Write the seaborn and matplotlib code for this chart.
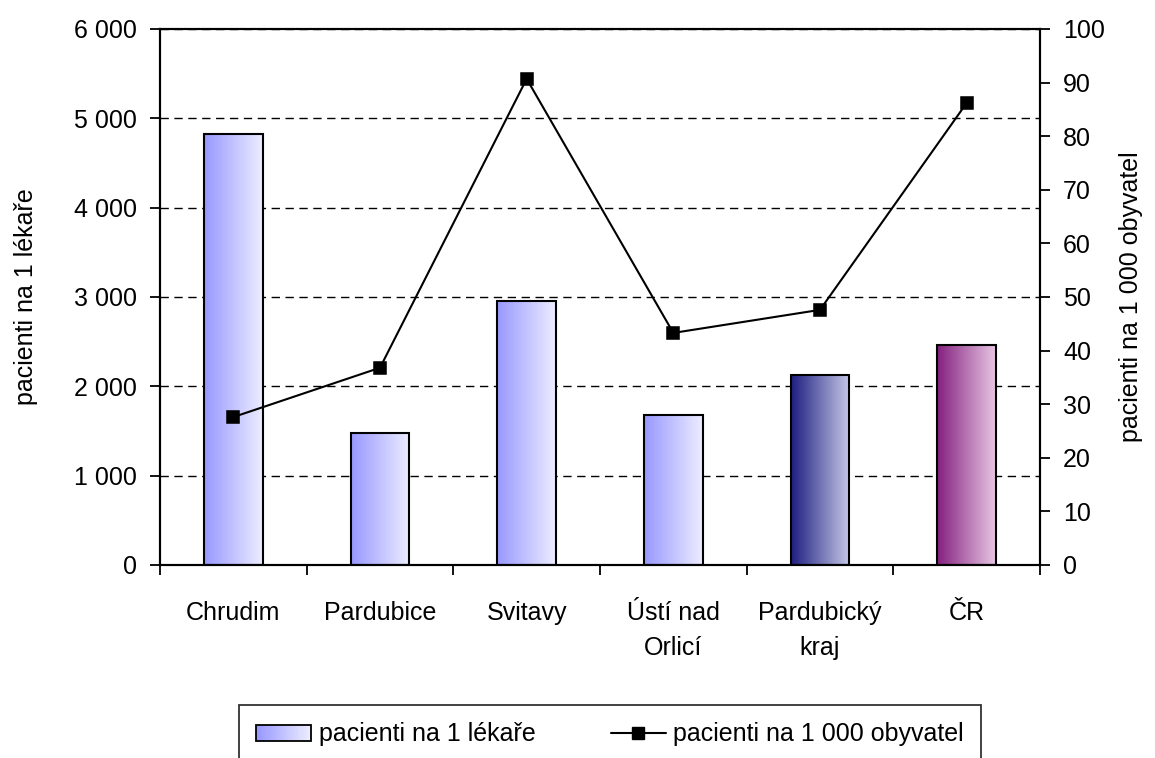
import numpy as np
import pandas as pd
import matplotlib
matplotlib.use("Agg")
import matplotlib.pyplot as plt
import seaborn as sns
from matplotlib import font_manager
from matplotlib.colors import LinearSegmentedColormap
from matplotlib.patches import Rectangle
from matplotlib.lines import Line2D
from matplotlib.legend_handler import HandlerBase
from matplotlib.ticker import FuncFormatter, MultipleLocator, FixedLocator

# Data
categories = ["Chrudim", "Pardubice", "Svitavy", "Ústí nad\nOrlicí", "Pardubický\nkraj", "ČR"]
per_doctor = [4830, 1475, 2955, 1680, 2125, 2460]
per_1000 = [27.6, 36.8, 90.7, 43.3, 47.6, 86.2]
bar_label = "pacienti na 1 lékaře"
line_label = "pacienti na 1 000 obyvatel"

# Gradient colours per bar (left -> right)
grad_left = ["#9898ff", "#9898ff", "#9898ff", "#9898ff", "#1e1e80", "#84207f"]
grad_right = ["#ededff", "#ededff", "#ededff", "#ededff", "#c6c9e8", "#e8c6e4"]


def pick_font():
    """Use a narrow Arial-like face when it exists."""
    for name, size in [("Liberation Sans Narrow", 21.5), ("Liberation Sans", 18)]:
        try:
            font_manager.findfont(font_manager.FontProperties(family=name), fallback_to_default=False)
            return name, size
        except ValueError:
            continue
    return "DejaVu Sans", 15


class GradientHandler(HandlerBase):
    """Legend handle drawn as a stepped horizontal gradient box."""

    def __init__(self, c0, c1):
        super().__init__()
        self.cmap = LinearSegmentedColormap.from_list("leg", [c0, c1])

    def create_artists(self, legend, orig_handle, xdescent, ydescent, width, height, fontsize, trans):
        n = 30
        arts = []
        for i in range(n):
            arts.append(Rectangle((-xdescent + width * i / n, -ydescent), width / n + 0.3, height,
                                  facecolor=self.cmap(i / (n - 1)), edgecolor="none", transform=trans))
        arts.append(Rectangle((-xdescent, -ydescent), width, height, facecolor="none",
                              edgecolor="black", linewidth=1.3, transform=trans))
        return arts


sns.set_style("white")
font_name, fsize = pick_font()
plt.rcParams["font.family"] = [font_name, "DejaVu Sans"]
plt.rcParams["font.size"] = fsize
plt.rcParams["text.color"] = "black"
plt.rcParams["axes.labelcolor"] = "black"
plt.rcParams["xtick.color"] = "black"
plt.rcParams["ytick.color"] = "black"

fig = plt.figure(figsize=(11.55, 7.58), dpi=100)
ax = fig.add_axes([160 / 1155, 1 - 565 / 758, 880 / 1155, 536 / 758])

df = pd.DataFrame({"kraj": categories, "lekar": per_doctor, "obyv": per_1000})

sns.barplot(data=df, x="kraj", y="lekar", ax=ax, width=0.4, color="white",
            edgecolor="black", linewidth=1.5, errorbar=None)

# gradient fill inside each bar
for p, c0, c1 in zip(ax.patches, grad_left, grad_right):
    x0, w, h = p.get_x(), p.get_width(), p.get_height()
    cmap = LinearSegmentedColormap.from_list("bar", [c0, c1])
    ax.imshow(np.linspace(0, 1, 256).reshape(1, -1), cmap=cmap, extent=[x0, x0 + w, 0, h],
              aspect="auto", interpolation="bilinear", zorder=2)
    p.set_facecolor("none")
    p.set_zorder(3)

ax.set_xlim(-0.5, len(categories) - 0.5)
ax.set_ylim(0, 6000)
ax.yaxis.set_major_locator(MultipleLocator(1000))
ax.yaxis.set_major_formatter(FuncFormatter(lambda v, _: f"{int(v):,}".replace(",", " ")))
ax.set_axisbelow(True)
ax.yaxis.grid(True, color="black", linestyle=(0, (6, 4)), linewidth=1)
ax.xaxis.grid(False)

# category ticks: labels at centres, tick marks at boundaries
ax.xaxis.set_minor_locator(FixedLocator(np.arange(-0.5, len(categories), 1.0)))
ax.tick_params(axis="x", which="major", length=0, pad=26, labelsize=fsize, labelcolor="black")
ax.tick_params(axis="x", which="minor", length=7.5, width=1.3, direction="out", bottom=True)
ax.tick_params(axis="y", which="major", length=7.5, width=1.3, direction="out", left=True, pad=9,
               labelsize=fsize, labelcolor="black")
for lbl in ax.get_xticklabels():
    lbl.set_linespacing(1.55)
    lbl.set_verticalalignment("top")

ax.set_xlabel("")
ax.set_ylabel(bar_label, fontsize=fsize, labelpad=26, color="black")
for s in ax.spines.values():
    s.set_visible(True)
    s.set_color("black")
    s.set_linewidth(1.5)

# secondary axis with the line series
ax2 = ax.twinx()
sns.pointplot(data=df, x="kraj", y="obyv", ax=ax2, color="black", markers="s",
              markersize=9, linewidth=1.5, errorbar=None)
ax2.set_xlim(-0.5, len(categories) - 0.5)
ax2.set_ylim(0, 100)
ax2.yaxis.set_major_locator(MultipleLocator(10))
ax2.tick_params(axis="y", which="major", length=7.5, width=1.3, direction="out", right=True, pad=9,
                labelsize=fsize, labelcolor="black")
ax2.set_ylabel(line_label, fontsize=fsize, labelpad=10, color="black")
ax2.yaxis.set_label_position("right")
ax2.grid(False)
for s in ax2.spines.values():
    s.set_color("black")
    s.set_linewidth(1.5)

# legend at the bottom
bar_handle = Rectangle((0, 0), 1, 1)
line_handle = Line2D([], [], color="black", marker="s", markersize=8, linewidth=1.5)
leg = fig.legend([bar_handle, line_handle], [bar_label, line_label], loc="upper center",
                 bbox_to_anchor=(610 / 1155, 1 - 705 / 758), ncol=2, frameon=True, fancybox=False,
                 handler_map={bar_handle: GradientHandler(grad_left[0], grad_right[0])},
                 handlelength=2.2, handleheight=0.6, handletextpad=0.3, columnspacing=3.0,
                 borderpad=0.7, borderaxespad=0, fontsize=fsize)
leg.get_frame().set_edgecolor("black")
leg.get_frame().set_linewidth(1.3)

fig.savefig("out.png", dpi=100)
